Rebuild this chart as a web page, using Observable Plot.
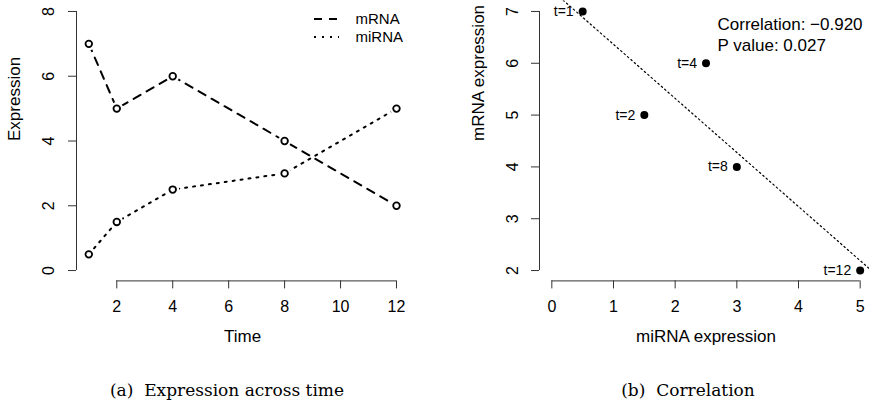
<!DOCTYPE html>
<html>
<head>
<meta charset="utf-8">
<script src="https://cdn.jsdelivr.net/npm/d3@7"></script>
<script src="https://cdn.jsdelivr.net/npm/@observablehq/plot@0.6"></script>
<style>
  html, body { margin: 0; padding: 0; background: #fff; }
  #wrap { position: relative; width: 869px; height: 409px; overflow: hidden; background: #fff; }
  .panel { position: absolute; top: 0; }
  #wrap svg, #wrap svg text, #wrap svg g { font-family: "Liberation Sans", Arial, sans-serif !important; }
  .caption { position: absolute; top: 380px; font-family: "DejaVu Serif", serif; font-size: 17px; color: #000; white-space: pre; transform: translateX(-50%); }
</style>
</head>
<body>
<div id="wrap"></div>
<script>
// ---- data ----
const time = [1, 2, 4, 8, 12];
const mRNA = [7, 5, 6, 4, 2];
const miRNA = [0.5, 1.5, 2.5, 3, 5];
const timeTicks = [2, 4, 6, 8, 10, 12];
const exprTicks = [0, 2, 4, 6, 8];
const miTicks = [0, 1, 2, 3, 4, 5];
const mTicks = [2, 3, 4, 5, 6, 7];
const seriesNames = ["mRNA", "miRNA"];
const corrText = "Correlation: \u22120.920";
const pText = "P value: 0.027";
const captions = ["(a)  Expression across time", "(b)  Correlation"];

const FONT = "Liberation Sans, Arial, sans-serif";
const AX = "#333";
const H = 355;
const fmt = d => String(d);

const wrap = document.getElementById("wrap");

// ---- left panel ----
const rowsA = time.map((t, i) => ({t, mRNA: mRNA[i], miRNA: miRNA[i]}));
const xDomA = [0.56, 12.44];
const yDomA = [-0.32, 8.32];
const left = Plot.plot({
  width: 434, height: H,
  marginLeft: 76, marginRight: 25.7, marginTop: 0.6, marginBottom: H - 280.4,
  style: {fontFamily: FONT, background: "transparent", overflow: "visible"},
  x: {domain: xDomA},
  y: {domain: yDomA},
  marks: [
    Plot.ruleY([yDomA[0]], {x1: timeTicks[0], x2: timeTicks[timeTicks.length - 1], stroke: AX}),
    Plot.ruleX([xDomA[0]], {y1: exprTicks[0], y2: exprTicks[exprTicks.length - 1], stroke: AX}),
    Plot.axisX({ticks: timeTicks, tickSize: 8, tickPadding: 12, fontSize: 16, stroke: AX, label: null, tickFormat: fmt}),
    Plot.axisY({ticks: exprTicks, tickSize: 8, tickFormat: () => "", stroke: AX, label: null}),
    Plot.text(exprTicks, {x: () => xDomA[0], y: d => d, text: fmt, rotate: -90, dx: -28, fontSize: 16, textAnchor: "middle", lineAnchor: "middle"}),
    Plot.text(["Time"], {frameAnchor: "bottom", dy: 56, text: d => d, fontSize: 17, lineAnchor: "middle"}),
    Plot.text(["Expression"], {frameAnchor: "left", dx: -61.5, text: d => d, rotate: -90, fontSize: 17, lineAnchor: "middle"}),
    Plot.line(rowsA, {x: "t", y: "mRNA", stroke: "#000", strokeWidth: 2, strokeDasharray: "8,7"}),
    Plot.line(rowsA, {x: "t", y: "miRNA", stroke: "#000", strokeWidth: 2, strokeDasharray: "2,6"}),
    Plot.dot(rowsA, {x: "t", y: "mRNA", r: 6.5, fill: "#fff"}),
    Plot.dot(rowsA, {x: "t", y: "miRNA", r: 6.5, fill: "#fff"}),
    Plot.dot(rowsA, {x: "t", y: "mRNA", r: 3.3, stroke: "#000", strokeWidth: 1.8, fill: "#fff"}),
    Plot.dot(rowsA, {x: "t", y: "miRNA", r: 3.3, stroke: "#000", strokeWidth: 1.8, fill: "#fff"}),
    Plot.text([seriesNames[0]], {frameAnchor: "top-left", dx: 279, dy: 18.4, text: d => d, fontSize: 15, textAnchor: "start", lineAnchor: "middle"}),
    Plot.text([seriesNames[1]], {frameAnchor: "top-left", dx: 279, dy: 36.4, text: d => d, fontSize: 15, textAnchor: "start", lineAnchor: "middle"})
  ]
});
left.classList.add("panel");
left.style.left = "0px";
wrap.appendChild(left);
const lsvg = d3.select(left);
lsvg.append("line").attr("x1", 314).attr("x2", 339).attr("y1", 19).attr("y2", 19)
  .attr("stroke", "#000").attr("stroke-width", 2).attr("stroke-dasharray", "8,7");
lsvg.append("line").attr("x1", 314).attr("x2", 339).attr("y1", 37).attr("y2", 37)
  .attr("stroke", "#000").attr("stroke-width", 2).attr("stroke-dasharray", "2,6");

// ---- right panel ----
const rowsB = time.map((t, i) => ({label: "t=" + t, x: miRNA[i], y: mRNA[i]}));
const xDomB = [-0.2, 5.2];
const yDomB = [1.8, 7.2];
const mx = d3.mean(miRNA), my = d3.mean(mRNA);
const slope = d3.sum(miRNA, (v, i) => (v - mx) * (mRNA[i] - my)) / d3.sum(miRNA, v => (v - mx) ** 2);
const icpt = my - slope * mx;
const fit = xDomB.map(x => ({x, y: icpt + slope * x}));

const right = Plot.plot({
  width: 440, height: H,
  marginLeft: 105, marginRight: 2, marginTop: 0.6, marginBottom: H - 280.4,
  style: {fontFamily: FONT, background: "transparent", overflow: "visible"},
  x: {domain: xDomB},
  y: {domain: yDomB},
  marks: [
    Plot.ruleY([yDomB[0]], {x1: miTicks[0], x2: miTicks[miTicks.length - 1], stroke: AX}),
    Plot.ruleX([xDomB[0]], {y1: mTicks[0], y2: mTicks[mTicks.length - 1], stroke: AX}),
    Plot.axisX({ticks: miTicks, tickSize: 8, tickPadding: 12, fontSize: 16, stroke: AX, label: null, tickFormat: fmt}),
    Plot.axisY({ticks: mTicks, tickSize: 8, tickFormat: () => "", stroke: AX, label: null}),
    Plot.text(mTicks, {x: () => xDomB[0], y: d => d, text: fmt, rotate: -90, dx: -27, fontSize: 16, textAnchor: "middle", lineAnchor: "middle"}),
    Plot.text(["miRNA expression"], {frameAnchor: "bottom", dy: 56, text: d => d, fontSize: 17, lineAnchor: "middle"}),
    Plot.text(["mRNA expression"], {frameAnchor: "left", dx: -61, text: d => d, rotate: -90, fontSize: 17, lineAnchor: "middle"}),
    Plot.line(fit, {x: "x", y: "y", stroke: "#000", strokeWidth: 1.2, strokeDasharray: "1.5,3", clip: true}),
    Plot.dot(rowsB, {x: "x", y: "y", r: 4, fill: "#000"}),
    Plot.text(rowsB, {x: "x", y: "y", text: "label", dx: -9, textAnchor: "end", lineAnchor: "middle", fontSize: 14}),
    Plot.text([corrText], {frameAnchor: "top-left", dx: 178, dy: 23.4, text: d => d, fontSize: 17, textAnchor: "start", lineAnchor: "middle"}),
    Plot.text([pText], {frameAnchor: "top-left", dx: 178, dy: 44.4, text: d => d, fontSize: 17, textAnchor: "start", lineAnchor: "middle"})
  ]
});
right.classList.add("panel");
right.style.left = "434px";
wrap.appendChild(right);

// ---- captions ----
[[captions[0], 227], [captions[1], 688]].forEach(([txt, cx]) => {
  const d = document.createElement("div");
  d.className = "caption";
  d.textContent = txt;
  d.style.left = cx + "px";
  wrap.appendChild(d);
});
</script>
</body>
</html>
